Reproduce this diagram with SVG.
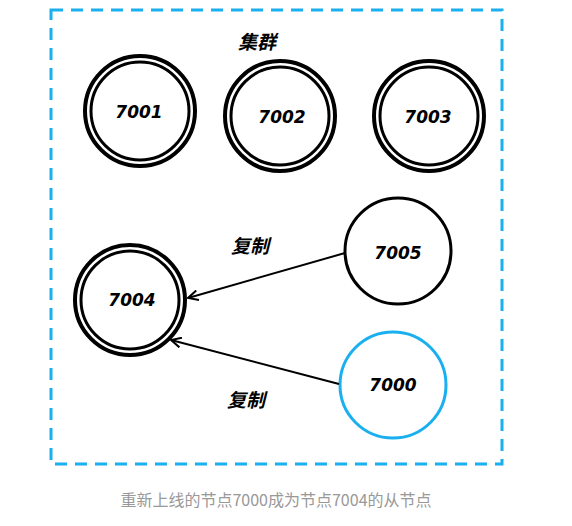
<svg xmlns="http://www.w3.org/2000/svg" width="572" height="526" viewBox="0 0 572 526">
  <style>
    .ring-out { fill: none; stroke: #000; stroke-width: 4; }
    .ring-in { fill: none; stroke: #000; stroke-width: 3; }
    .single { fill: #fff; stroke: #000; stroke-width: 3; }
    .num { font-family: "DejaVu Sans", sans-serif; font-weight: bold; font-style: italic; font-size: 17px; text-anchor: middle; dominant-baseline: central; fill: #000; }
    .cjk { font-family: "Noto Sans CJK SC", sans-serif; font-weight: bold; font-style: italic; font-size: 19px; text-anchor: middle; dominant-baseline: central; fill: #000; }
    .caption { font-family: "Noto Sans CJK SC", sans-serif; font-size: 16px; text-anchor: middle; dominant-baseline: central; fill: #999; }
    .link { stroke: #000; stroke-width: 2; fill: none; }
  </style>
  <defs>
    <marker id="open-arrow" viewBox="0 0 12 12" refX="11" refY="6" markerWidth="12" markerHeight="12" markerUnits="userSpaceOnUse" orient="auto">
      <path d="M1,1 L11,6 L1,11" fill="none" stroke="#000" stroke-width="2"/>
    </marker>
  </defs>
  <rect width="572" height="526" fill="#fff"/>

  <!-- cluster boundary -->
  <rect id="cluster" x="51" y="10" width="451" height="454" fill="none" stroke="#1ab0f0" stroke-width="3" stroke-dasharray="12 8"/>
  <text class="cjk" x="257" y="40">集群</text>

  <g id="n7001">
    <circle class="ring-out" cx="140" cy="111" r="55"/>
    <circle class="ring-in" cx="140" cy="111" r="49"/>
    <text class="num" x="139" y="112">7001</text>
  </g>
  <g id="n7002">
    <circle class="ring-out" cx="280" cy="116" r="55"/>
    <circle class="ring-in" cx="280" cy="116" r="49"/>
    <text class="num" x="282" y="117">7002</text>
  </g>
  <g id="n7003">
    <circle class="ring-out" cx="429" cy="116" r="55"/>
    <circle class="ring-in" cx="429" cy="116" r="49"/>
    <text class="num" x="428" y="117">7003</text>
  </g>
  <g id="n7004">
    <circle class="ring-out" cx="130" cy="300" r="55"/>
    <circle class="ring-in" cx="130" cy="300" r="49"/>
    <text class="num" x="132" y="300">7004</text>
  </g>
  <g id="n7005">
    <circle class="single" cx="398" cy="251" r="53"/>
    <text class="num" x="398" y="253">7005</text>
  </g>
  <g id="n7000">
    <circle cx="393" cy="385" r="53" fill="#fff" stroke="#1ab0f0" stroke-width="3"/>
    <text class="num" x="393" y="385">7000</text>
  </g>

  <g id="connectors">
    <line class="link" x1="345" y1="253" x2="188" y2="298" marker-end="url(#open-arrow)"/>
    <line class="link" x1="339" y1="384" x2="171" y2="340" marker-end="url(#open-arrow)"/>
    <text class="cjk" x="250" y="244">复制</text>
    <text class="cjk" x="246" y="398">复制</text>
  </g>

  <text class="caption" x="276" y="499">重新上线的节点7000成为节点7004的从节点</text>
</svg>
